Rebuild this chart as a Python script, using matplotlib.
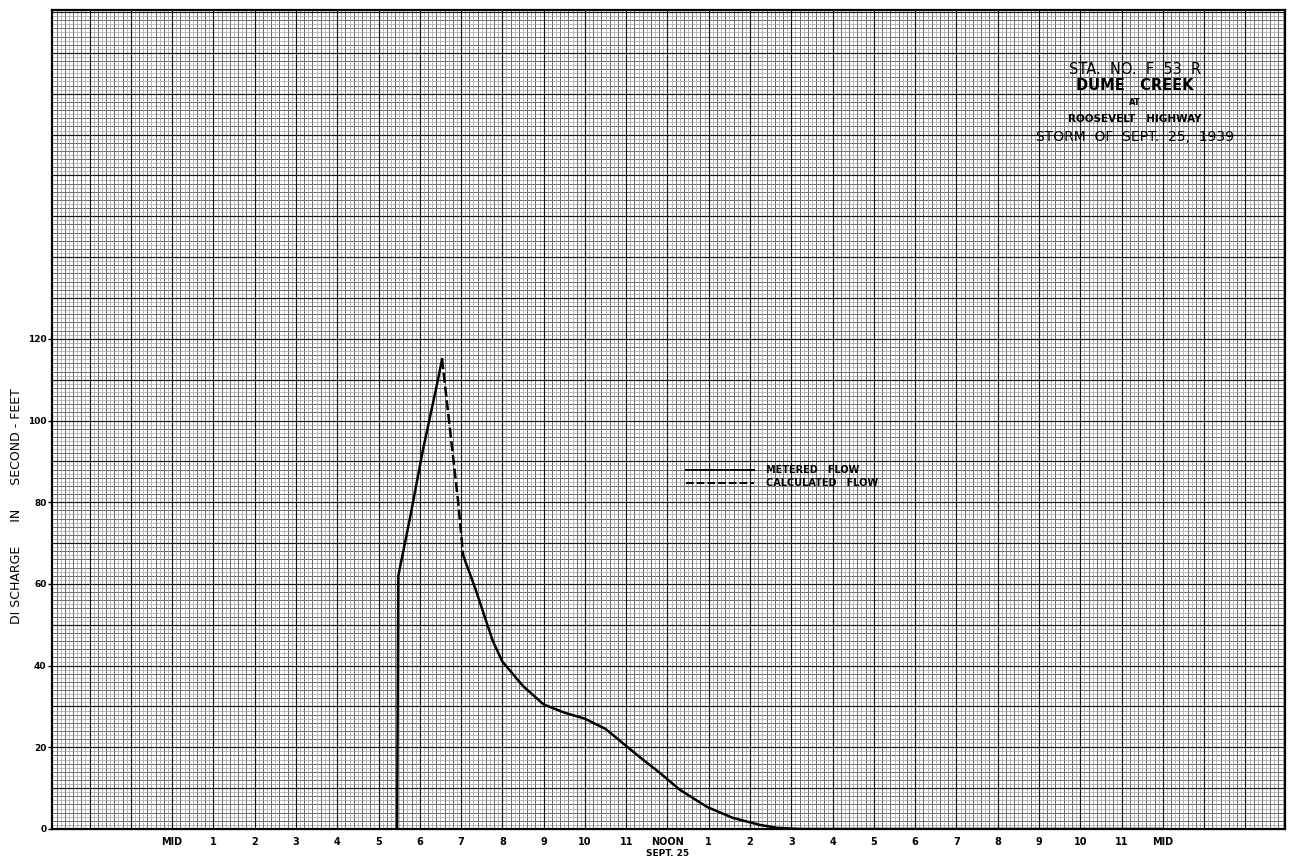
import numpy as np
import matplotlib
matplotlib.use("Agg")
import matplotlib.pyplot as plt
from matplotlib.ticker import MultipleLocator

# hours after midnight, Sept. 25 / discharge in second-feet
rise_hours = [5.45, 5.48, 5.76, 6.08, 6.42, 6.54]
rise_flow = [0, 62, 76, 93, 109, 115]

calc_hours = [6.54, 6.73, 6.93, 7.05]
calc_flow = [115, 98, 80, 67]

fall_hours = [7.05, 7.34, 7.77, 8.0, 8.5, 9.0, 9.5, 10.0, 10.5, 10.8,
              11.33, 11.82, 12.3, 12.96, 13.59, 14.24, 14.65, 15.2, 24.0]
fall_flow = [67, 59, 46, 41, 35, 30.5, 28.5, 27, 24.5, 22,
             17.6, 13.7, 9.6, 5.4, 2.7, 1.0, 0.3, 0, 0]

hour_ticks = list(range(25))
hour_labels = ['MID', '1', '2', '3', '4', '5', '6', '7', '8', '9', '10', '11', 'NOON',
               '1', '2', '3', '4', '5', '6', '7', '8', '9', '10', '11', 'MID']
flow_ticks = [0, 20, 40, 60, 80, 100, 120]

title_lines = ["STA.  NO.  F  53  R", "DUME   CREEK", "AT", "ROOSEVELT   HIGHWAY",
               "STORM  OF  SEPT.  25,  1939"]

fig = plt.figure(figsize=(12.95, 8.59), dpi=100)
ax = fig.add_axes([52 / 1295, 30 / 859, 1233 / 1295, 819 / 859])

ax.set_xlim(-2.91, 26.96)
ax.set_ylim(0, 200.5)

# graph paper ruling
ax.xaxis.set_minor_locator(MultipleLocator(0.1))
ax.yaxis.set_minor_locator(MultipleLocator(1))
ax.grid(True, which='minor', color='#8a8a8a', linewidth=0.4)
for x in np.arange(-2.8, 27.0, 0.2):
    ax.axvline(x, color='#3a3a3a', linewidth=0.65, zorder=0.5)
for y in np.arange(0, 201, 2):
    ax.axhline(y, color='#3a3a3a', linewidth=0.65, zorder=0.5)
for x in np.arange(-2, 27, 1):
    ax.axvline(x, color='#151515', linewidth=0.85, zorder=0.6)
for y in np.arange(0, 201, 10):
    ax.axhline(y, color='#151515', linewidth=0.85, zorder=0.6)
ax.set_axisbelow(True)

ax.plot(rise_hours, rise_flow, color='black', linewidth=1.8, zorder=3)
ax.plot(calc_hours, calc_flow, color='black', linewidth=1.8, linestyle=(0, (4, 1.5)), zorder=3)
ax.plot(fall_hours, fall_flow, color='black', linewidth=1.8, zorder=3)

# legend
ax.plot([], [], color='black', linewidth=1.4, label='METERED   FLOW')
ax.plot([], [], color='black', linewidth=1.4, linestyle=(0, (4, 1.5)), label='CALCULATED   FLOW')
leg = ax.legend(loc='center left', bbox_to_anchor=(0.507, 0.43), frameon=False,
                handlelength=7.0, handletextpad=1.2, labelspacing=0.3,
                prop={'size': 7, 'weight': 'bold'})

ax.set_xticks(hour_ticks)
ax.set_xticklabels(hour_labels, fontsize=7, fontweight='bold')
ax.tick_params(axis='x', which='both', length=0, pad=6)
ax.set_yticks(flow_ticks)
ax.set_yticklabels([str(v) for v in flow_ticks], fontsize=6.5, fontweight='bold')
ax.tick_params(axis='y', which='major', length=3, width=1, pad=1)
ax.tick_params(axis='y', which='minor', length=0)

for s in ax.spines.values():
    s.set_linewidth(1.6)

ax.text(12, -0.03, 'SEPT. 25', transform=ax.get_xaxis_transform(), ha='center', va='center',
        fontsize=6.5, fontweight='bold')

fig.text(17 / 1295, 1 - 506 / 859, 'DI SCHARGE      IN      SECOND - FEET', rotation=90,
         ha='center', va='center', fontsize=9)

title_y = [0.927, 0.908, 0.887, 0.867, 0.845]
title_size = [10.5, 10.5, 6, 7.5, 10]
title_weight = ['normal', 'bold', 'bold', 'bold', 'normal']
for txt, yy, sz, wt in zip(title_lines, title_y, title_size, title_weight):
    ax.text(0.878, yy, txt, transform=ax.transAxes, ha='center', va='center',
            fontsize=sz, fontweight=wt, zorder=4)

fig.savefig('out.png', dpi=100)
